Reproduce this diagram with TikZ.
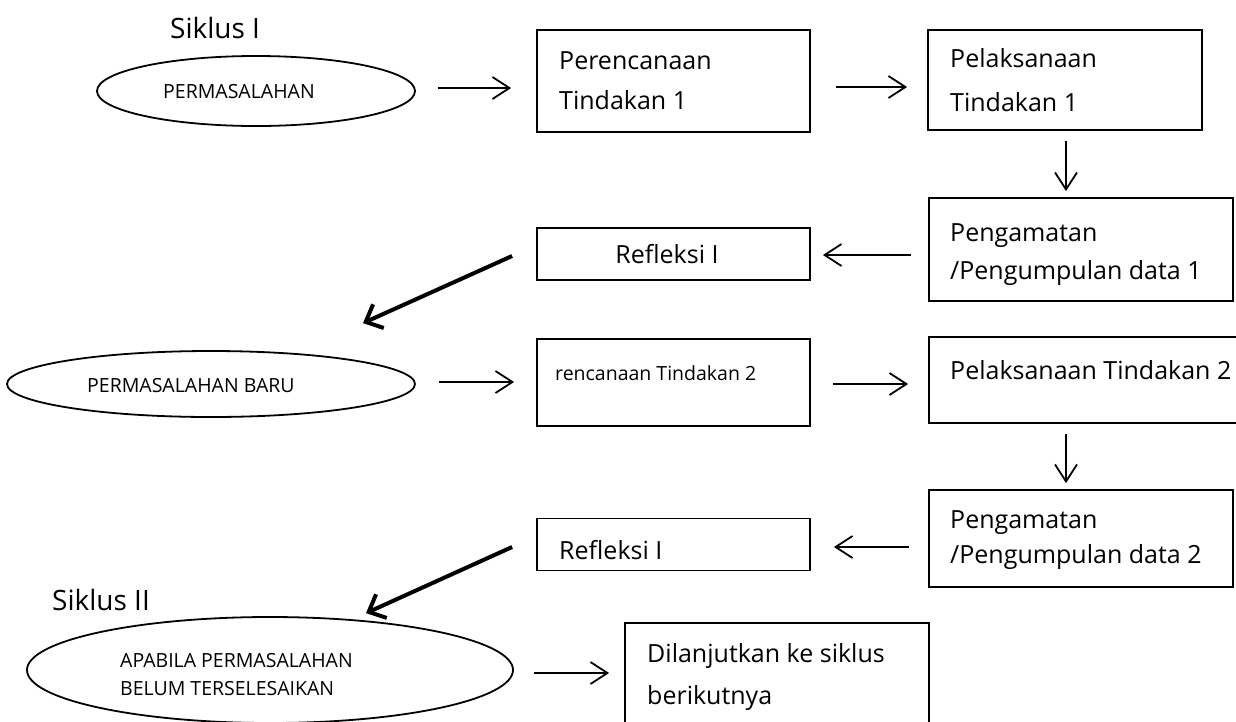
\documentclass[tikz,border=0pt]{standalone}
\usepackage{fontspec}
\setmainfont{Open Sans}
\usetikzlibrary{shapes.geometric,arrows.meta}
\begin{document}
\begin{tikzpicture}[x=1pt,y=-1pt,
  box/.style={draw, line width=1.8pt, rectangle, inner sep=0pt},
  oval/.style={draw, line width=1.8pt, ellipse, inner sep=0pt},
  big/.style={font=\fontsize{25}{30}\selectfont, inner sep=0pt, anchor=base west},
  small/.style={font=\fontsize{19.5}{24}\selectfont, inner sep=0pt, anchor=base west},
  title/.style={font=\fontsize{28}{34}\selectfont, inner sep=0pt, anchor=base west},
  arr/.style={line width=1.8pt, -{Straight Barb[length=17pt,width=22pt]}},
  darr/.style={line width=4pt, -{Straight Barb[length=14pt,width=26pt]}},
]
\fill[white] (0,0) rectangle (1236,721);
\useasboundingbox (0,0) rectangle (1236,721);

% shapes
\node[oval, minimum width=318pt, minimum height=70pt] (e1) at (256,91) {};
\node[box, minimum width=273pt, minimum height=102pt] (b1) at (673.5,81) {};
\node[box, minimum width=274pt, minimum height=100pt] (b2) at (1065,80) {};
\node[box, minimum width=304pt, minimum height=103pt] (b3) at (1081,249.5) {};
\node[box, minimum width=273pt, minimum height=52pt] (b4) at (673.5,254) {};
\node[oval, minimum width=408pt, minimum height=66pt] (e2) at (211,384) {};
\node[box, minimum width=273pt, minimum height=87pt] (b5) at (673.5,382.5) {};
\node[box, minimum width=313pt, minimum height=86pt] (b6) at (1085.5,380) {};
\node[box, minimum width=304pt, minimum height=97pt] (b7) at (1081,538.5) {};
\node[box, minimum width=273pt, minimum height=52pt] (b8) at (673.5,544.5) {};
\node[oval, minimum width=486pt, minimum height=106pt] (e3) at (270,670) {};
\node[box, minimum width=304pt, minimum height=110pt] (b9) at (777,678) {};

% texts
\node[title] (s1) at (170,38) {Siklus I};
\node[small] (te1) at (163,98) {PERMASALAHAN};
\node[big] (tb1a) at (559,69) {Perencanaan};
\node[big] (tb1b) at (559,109) {Tindakan 1};
\node[big] (tb2a) at (950,67) {Pelaksanaan};
\node[big] (tb2b) at (950,111) {Tindakan 1};
\node[big] (tb3a) at (950,241) {Pengamatan};
\node[big] (tb3b) at (950,279) {/Pengumpulan data 1};
\node[big, anchor=base] (tb4) at (667,263) {Refleksi I};
\node[small] (te2) at (87,392) {PERMASALAHAN BARU};
\node[small] (tb5) at (555,380) {rencanaan Tindakan 2};
\node[big] (tb6) at (950,379) {Pelaksanaan Tindakan 2};
\node[big] (tb7a) at (950,528) {Pengamatan};
\node[big] (tb7b) at (950,563) {/Pengumpulan data 2};
\node[big] (tb8) at (559,559) {Refleksi I};
\node[title] (s2) at (52,610) {Siklus II};
\node[small] (te3a) at (120,667) {APABILA PERMASALAHAN};
\node[small] (te3b) at (120,695) {BELUM TERSELESAIKAN};
\node[big] (tb9a) at (647,662) {Dilanjutkan ke siklus};
\node[big] (tb9b) at (647,704) {berikutnya};

% connectors
\draw[arr] ([shift={(22,-3)}]e1.east) -- ([shift={(-25,7)}]b1.west);
\draw[arr] ([shift={(25,6)}]b1.east) -- ([shift={(-20,7)}]b2.west);
\draw[arr] ([shift={(1,10)}]b2.south) -- ([shift={(-15,-6)}]b3.north);
\draw[arr] ([shift={(-17,5.5)}]b3.west) -- ([shift={(12,1)}]b4.east);
\draw[darr] ([shift={(-24,2)}]b4.west) -- ([shift={(152,-27)}]e2.north);
\draw[arr] ([shift={(23,-2)}]e2.east) -- ([shift={(-22,-0.5)}]b5.west);
\draw[arr] ([shift={(22,1.5)}]b5.east) -- ([shift={(-20,4)}]b6.west);
\draw[arr] ([shift={(-19.5,10)}]b6.south) -- ([shift={(-15,-6)}]b7.north);
\draw[arr] ([shift={(-19,8.5)}]b7.west) -- ([shift={(23,2.5)}]b8.east);
\draw[darr] ([shift={(-24,2.5)}]b8.west) -- ([shift={(96,-3)}]e3.north);
\draw[arr] ([shift={(20,3)}]e3.east) -- ([shift={(-15,-5)}]b9.west);
\end{tikzpicture}
\end{document}
